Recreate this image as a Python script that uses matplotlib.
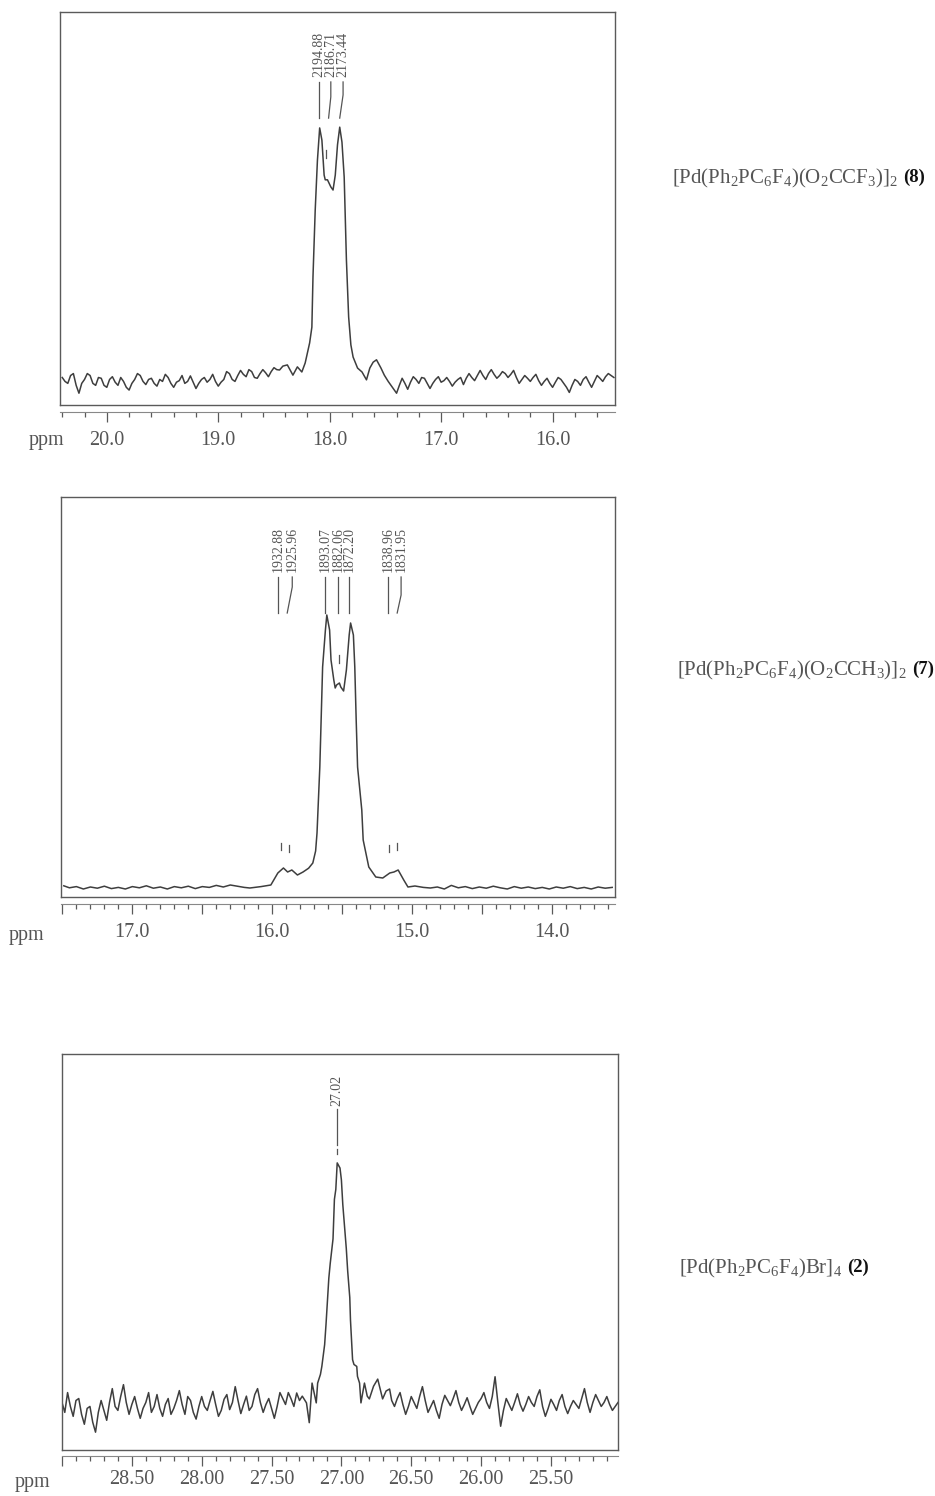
# 31P NMR spectra of the Pd complexes (8), (7) and (2) -> out.png
import matplotlib.pyplot as plt
from matplotlib.ticker import MultipleLocator, FuncFormatter

plt.rcParams["font.family"] = "Liberation Serif"
plt.rcParams["mathtext.fontset"] = "custom"
plt.rcParams["mathtext.rm"] = "Liberation Serif"
plt.rcParams["mathtext.bf"] = "Liberation Serif:bold"

# ---- data (ppm, relative intensity in % of the frame height) ----
# [Pd(Ph2PC6F4)(O2CCF3)]2 (8)
ppm_8 = [20.400, 20.375, 20.350, 20.325, 20.300, 20.275, 20.250, 20.225,
         20.200, 20.175, 20.150, 20.125, 20.100, 20.075, 20.050, 20.025,
         20.000, 19.975, 19.950, 19.925, 19.900, 19.875, 19.850, 19.825,
         19.800, 19.775, 19.750, 19.725, 19.700, 19.675, 19.650, 19.625,
         19.600, 19.575, 19.550, 19.525, 19.500, 19.475, 19.450, 19.425,
         19.400, 19.375, 19.350, 19.325, 19.300, 19.275, 19.250, 19.225,
         19.200, 19.175, 19.150, 19.125, 19.100, 19.075, 19.050, 19.025,
         19.000, 18.975, 18.950, 18.925, 18.900, 18.875, 18.850, 18.825,
         18.800, 18.775, 18.750, 18.725, 18.700, 18.675, 18.650, 18.625,
         18.600, 18.575, 18.550, 18.525, 18.500, 18.475, 18.45,
         18.42, 18.38, 18.33, 18.29, 18.25, 18.22, 18.18, 18.16, 18.15, 18.13,
         18.11, 18.09, 18.07, 18.05, 18.04, 18.02, 17.99, 17.97, 17.95, 17.93,
         17.91, 17.89, 17.87, 17.86, 17.85, 17.83, 17.81, 17.79, 17.75, 17.71,
         17.67, 17.64, 17.61, 17.58, 17.54, 17.51,
         17.475, 17.450, 17.425, 17.400, 17.375, 17.350, 17.325, 17.300,
         17.275, 17.250, 17.225, 17.200, 17.175, 17.150, 17.125, 17.100,
         17.075, 17.050, 17.025, 17.000, 16.975, 16.950, 16.925, 16.900,
         16.875, 16.850, 16.825, 16.800, 16.775, 16.750, 16.725, 16.700,
         16.675, 16.650, 16.625, 16.600, 16.575, 16.550, 16.525, 16.500,
         16.475, 16.450, 16.425, 16.400, 16.375, 16.350, 16.325, 16.300,
         16.275, 16.250, 16.225, 16.200, 16.175, 16.150, 16.125, 16.100,
         16.075, 16.050, 16.025, 16.000, 15.975, 15.950, 15.925, 15.900,
         15.875, 15.850, 15.825, 15.800, 15.775, 15.750, 15.725, 15.700,
         15.675, 15.650, 15.625, 15.600, 15.575, 15.550, 15.525, 15.500,
         15.475, 15.450]
int_8 = [7.0, 6.0, 5.5, 7.5, 8.0, 5.0, 3.0, 5.5,
         6.5, 8.0, 7.5, 5.5, 5.0, 7.0, 6.8, 5.0,
         4.5, 6.5, 7.2, 5.8, 5.0, 7.0, 6.0, 4.5,
         3.8, 5.5, 6.5, 8.0, 7.5, 6.0, 5.2, 6.5,
         6.8, 5.5, 4.8, 6.5, 6.0, 7.8, 7.0, 5.5,
         4.5, 5.8, 6.2, 7.5, 5.5, 6.0, 7.4, 5.8,
         4.2, 5.5, 6.5, 7.0, 5.8, 6.5, 7.8, 6.0,
         4.8, 5.8, 6.5, 8.5, 8.0, 6.5, 6.0, 7.5,
         8.8, 7.8, 7.2, 9.0, 8.5, 7.0, 6.8, 8.0,
         9.0, 8.2, 7.2, 8.5, 9.5, 9.0, 8.9,
         9.9, 10.2, 7.6, 9.7, 8.4, 10.7, 15.8, 19.8, 32.6, 49.6,
         62.3, 70.5, 67.4, 58.5, 57.3, 57.3, 55.5, 54.7, 58.5, 66.2,
         70.7, 66.9, 58.0, 47.1, 36.9, 22.4, 15.3, 12.2, 9.4, 8.4,
         6.4, 9.4, 10.9, 11.5, 9.4, 7.6,
         6.0, 5.0, 4.0, 3.0, 5.0, 6.8, 5.5, 4.0,
         5.8, 7.2, 6.5, 5.5, 7.0, 6.8, 5.5, 4.2,
         5.5, 6.5, 7.2, 5.8, 6.2, 7.0, 6.0, 4.8,
         5.8, 6.5, 7.0, 5.2, 6.8, 8.0, 7.0, 6.2,
         7.5, 8.8, 7.5, 6.5, 8.0, 9.0, 7.8, 6.8,
         7.5, 8.5, 8.0, 7.0, 7.8, 8.8, 7.0, 5.5,
         6.5, 7.5, 6.8, 6.0, 7.0, 7.8, 6.2, 5.0,
         6.0, 6.8, 5.5, 4.5, 5.8, 7.0, 6.5, 5.5,
         4.5, 3.2, 5.0, 6.5, 6.0, 5.0, 6.5, 7.2,
         5.8, 4.5, 6.0, 7.5, 6.8, 6.0, 7.2, 8.0,
         7.5, 7.0]
hz_8 = ["2194.88", "2186.71", "2173.44"]

# [Pd(Ph2PC6F4)(O2CCH3)]2 (7)
ppm_7 = [17.49, 17.45, 17.40, 17.35, 17.30, 17.25, 17.20, 17.15, 17.10, 17.05,
         17.00, 16.95, 16.90, 16.85, 16.80, 16.75, 16.70, 16.65, 16.60, 16.55,
         16.50, 16.45, 16.40, 16.35, 16.30, 16.25, 16.20, 16.16, 16.08, 16.01,
         15.96, 15.92, 15.89, 15.86, 15.82, 15.78, 15.74, 15.71, 15.69, 15.68,
         15.66, 15.64, 15.62, 15.61, 15.59, 15.58, 15.56, 15.55, 15.54, 15.52,
         15.51, 15.49, 15.47, 15.45, 15.44, 15.42, 15.41, 15.40, 15.39, 15.36,
         15.35, 15.31, 15.26, 15.21, 15.16, 15.13, 15.10, 15.06, 15.03, 14.98,
         14.92, 14.87, 14.82, 14.77, 14.72, 14.67, 14.62, 14.57, 14.52, 14.47,
         14.42, 14.37, 14.32, 14.27, 14.22, 14.17, 14.12, 14.07, 14.02, 13.97,
         13.92, 13.87, 13.82, 13.77, 13.72, 13.67, 13.62, 13.57]
int_7 = [2.8, 2.3, 2.6, 2.0, 2.5, 2.2, 2.7, 2.1, 2.4, 2.0,
         2.6, 2.3, 2.8, 2.2, 2.5, 2.0, 2.6, 2.3, 2.7, 2.1,
         2.6, 2.4, 2.9, 2.5, 3.0, 2.7, 2.4, 2.25, 2.6, 3.0,
         6.0, 7.25, 6.25, 6.75, 5.5, 6.25, 7.2, 8.5, 11.5, 16.0,
         32.5, 57.5, 66.75, 70.5, 66.75, 59.25, 54.25, 52.25, 53.0, 53.5,
         52.5, 51.5, 56.75, 65.5, 68.5, 65.5, 57.5, 44.25, 32.5, 21.75,
         14.25, 7.5, 5.0, 4.75, 6.0, 6.25, 6.75, 4.25, 2.5, 2.75,
         2.4, 2.25, 2.5, 2.0, 2.9, 2.3, 2.6, 2.1, 2.5, 2.2,
         2.7, 2.3, 2.0, 2.6, 2.2, 2.5, 2.1, 2.4, 2.0, 2.5,
         2.2, 2.6, 2.1, 2.4, 2.0, 2.5, 2.2, 2.4]
hz_7 = ["1932.88", "1925.96", "1893.07", "1882.06", "1872.20", "1838.96", "1831.95"]

# [Pd(Ph2PC6F4)Br]4 (2)
ppm_2 = [29.00, 28.98, 28.96, 28.94, 28.92, 28.90, 28.88, 28.86, 28.84, 28.82,
         28.80, 28.78, 28.76, 28.74, 28.72, 28.70, 28.68, 28.66, 28.64, 28.62,
         28.60, 28.58, 28.56, 28.54, 28.52, 28.50, 28.48, 28.46, 28.44, 28.42,
         28.40, 28.38, 28.36, 28.34, 28.32, 28.30, 28.28, 28.26, 28.24, 28.22,
         28.20, 28.18, 28.16, 28.14, 28.12, 28.10, 28.08, 28.06, 28.04, 28.02,
         28.00, 27.98, 27.96, 27.94, 27.92, 27.90, 27.88, 27.86, 27.84, 27.82,
         27.80, 27.78, 27.76, 27.74, 27.72, 27.70, 27.68, 27.66, 27.64, 27.62,
         27.60, 27.58, 27.56, 27.54, 27.52, 27.50, 27.48, 27.46, 27.44, 27.42,
         27.40, 27.38, 27.36, 27.34, 27.32, 27.30,
         27.28, 27.25, 27.23, 27.21, 27.19, 27.18, 27.17,
         27.15, 27.14, 27.12, 27.11, 27.09, 27.08, 27.06, 27.05, 27.04, 27.03,
         27.01, 27.00, 26.99, 26.98, 26.965, 26.955, 26.94, 26.935, 26.92, 26.91,
         26.89, 26.885, 26.87, 26.86, 26.835, 26.815, 26.80, 26.77, 26.74, 26.705,
         26.68, 26.655,
         26.64, 26.62, 26.60, 26.58, 26.56, 26.54, 26.52, 26.50, 26.48, 26.46,
         26.44, 26.42, 26.40, 26.38, 26.36, 26.34, 26.32, 26.30, 26.28, 26.26,
         26.24, 26.22, 26.20, 26.18, 26.16, 26.14, 26.12, 26.10, 26.08, 26.06,
         26.04, 26.02, 26.00, 25.98, 25.96, 25.94, 25.92, 25.90, 25.88, 25.86,
         25.84, 25.82, 25.80, 25.78, 25.76, 25.74, 25.72, 25.70, 25.68, 25.66,
         25.64, 25.62, 25.60, 25.58, 25.56, 25.54, 25.52, 25.50, 25.48, 25.46,
         25.44, 25.42, 25.40, 25.38, 25.36, 25.34, 25.32, 25.30, 25.28, 25.26,
         25.24, 25.22, 25.20, 25.18, 25.16, 25.14, 25.12, 25.10, 25.08, 25.06,
         25.04, 25.02]
int_2 = [12.0, 9.5, 14.5, 11.0, 8.5, 12.5, 13.0, 9.0, 6.5, 10.5,
         11.0, 7.0, 4.5, 9.5, 12.5, 10.0, 7.5, 12.0, 15.5, 11.0,
         10.0, 13.5, 16.5, 12.0, 9.0, 11.5, 13.5, 10.5, 8.0, 10.5,
         12.0, 14.5, 9.5, 11.0, 14.0, 10.5, 8.5, 11.5, 13.0, 9.0,
         10.5, 12.5, 15.0, 11.5, 9.0, 13.5, 12.5, 9.5, 7.8, 11.0,
         13.5, 11.0, 10.0, 12.5, 14.8, 11.5, 8.5, 10.0, 12.8, 14.0,
         10.2, 12.0, 16.0, 12.5, 9.2, 11.5, 13.6, 10.0, 11.0, 14.0,
         15.5, 12.0, 9.5, 11.5, 13.0, 10.5, 8.0, 11.0, 14.5, 13.0,
         11.5, 14.5, 12.9, 11.0, 14.4, 12.5,
         13.6, 11.9, 6.9, 16.9, 13.6, 11.9, 16.9,
         19.1, 21.1, 26.6, 31.8, 43.4, 47.1, 53.3, 63.3, 65.8, 72.5,
         71.2, 68.2, 62.0, 57.6, 50.9, 45.2, 38.5, 32.8, 22.8, 21.6,
         21.1, 18.6, 16.9, 11.9, 16.9, 13.6, 12.9, 16.1, 17.9, 12.9,
         14.9, 15.4,
         12.5, 11.0, 13.0, 14.5, 11.5, 9.0, 11.0, 13.5, 12.0, 10.5,
         13.5, 16.0, 12.5, 9.5, 11.0, 12.5, 10.0, 8.0, 11.5, 13.8,
         12.5, 11.2, 13.0, 15.0, 12.0, 10.0, 11.5, 13.2, 11.0, 9.0,
         10.5, 12.0, 13.0, 14.5, 12.0, 10.5, 13.5, 18.5, 12.0, 6.0,
         10.0, 13.0, 11.5, 10.0, 12.0, 14.2, 11.5, 9.8, 11.5, 13.5,
         12.0, 11.0, 13.5, 15.2, 11.0, 8.5, 10.5, 12.8, 11.5, 10.0,
         12.5, 14.0, 11.0, 9.2, 11.0, 12.5, 11.5, 10.5, 13.0, 15.5,
         12.0, 9.5, 12.0, 14.0, 12.5, 11.0, 12.0, 13.5, 11.5, 10.0,
         11.0, 12.0]
hz_2 = ["27.02"]

names = [r"$\mathrm{[Pd(Ph_2PC_6F_4)(O_2CCF_3)]_2}$",
         r"$\mathrm{[Pd(Ph_2PC_6F_4)(O_2CCH_3)]_2}$",
         r"$\mathrm{[Pd(Ph_2PC_6F_4)Br]_4}$"]
numbers = ["(8)", "(7)", "(2)"]

# ---- figure ----
W, H = 935, 1496
LINE = "#3e3e3e"
FRAME = "#5a5a5a"
TXT = "#555555"
fig = plt.figure(figsize=(W / 100, H / 100), dpi=100)


def box(x0, y0, x1, y1):
    return [x0 / W, 1 - y1 / H, (x1 - x0) / W, (y1 - y0) / H]


def spectrum(rect, xlim, ppm, inten):
    ax = fig.add_axes(rect)
    ax.plot(ppm, inten, color=LINE, lw=1.1)
    ax.set_xlim(*xlim)
    ax.set_ylim(0, 100)
    ax.set_xticks([]); ax.set_yticks([])
    for sp in ax.spines.values():
        sp.set_color(FRAME); sp.set_linewidth(1.0)
    return ax


def scale(ax, major, minor, fmt, gap=7, pad=7):
    pos = ax.get_position()
    s = fig.add_axes([pos.x0, pos.y0 - gap / H, pos.width, 0.0001])
    s.set_xlim(ax.get_xlim())
    s.set_yticks([])
    for sp in ["top", "left", "right"]:
        s.spines[sp].set_visible(False)
    s.spines["bottom"].set_color("#888888"); s.spines["bottom"].set_linewidth(0.8)
    s.xaxis.set_major_locator(MultipleLocator(major))
    s.xaxis.set_minor_locator(MultipleLocator(minor))
    s.xaxis.set_major_formatter(FuncFormatter(fmt))
    s.tick_params(which="major", length=7, width=0.9, color=FRAME, pad=pad,
                  labelsize=14.5, labelcolor=TXT)
    s.tick_params(which="minor", length=3.5, width=0.9, color=FRAME)
    s.patch.set_visible(False)
    return s


def leader(ax, xs, ys):
    ax.plot(xs, ys, color=TXT, lw=0.9, clip_on=False)


def peak_text(ax, x, y, s):
    ax.text(x, y, s, rotation=90, ha="center", va="bottom", fontsize=10, color=TXT)


# panel 1: compound 8
ax1 = spectrum(box(60, 12, 615, 405), (20.42, 15.44), ppm_8, int_8)
scale(ax1, 1.0, 0.2, lambda v, p: f"{v:.1f}")
for x, s in zip([18.10, 17.99, 17.88], hz_8):
    peak_text(ax1, x, 83.5, s)
leader(ax1, [18.10, 18.10], [82.2, 73.0])
leader(ax1, [17.99, 17.99, 18.01], [82.2, 78.4, 73.0])
leader(ax1, [17.88, 17.88, 17.91], [82.2, 78.9, 73.0])
leader(ax1, [18.03, 18.03], [64.9, 62.8])
fig.text(46 / W, 1 - 440 / H, "ppm", fontsize=14.5, color=TXT, ha="center", va="center")

# panel 2: compound 7
ax2 = spectrum(box(61, 497, 615, 897), (17.51, 13.55), ppm_7, int_7)
scale(ax2, 0.5, 0.1, lambda v, p: f"{v:.1f}" if abs(v - round(v)) < 1e-6 else "")
for x, s in zip([15.957, 15.857, 15.621, 15.529, 15.45, 15.171, 15.079], hz_7):
    peak_text(ax2, x, 81.25, s)
for x in [15.957, 15.621, 15.529, 15.45, 15.171]:
    leader(ax2, [x, x], [80.0, 71.0])
leader(ax2, [15.857, 15.857, 15.893], [80.0, 77.5, 71.0])
leader(ax2, [15.079, 15.079, 15.107], [80.0, 75.5, 71.0])
for x, y0, y1 in [(15.936, 13.5, 11.75), (15.879, 13.0, 11.25), (15.164, 13.0, 11.25),
                  (15.107, 13.5, 11.75), (15.521, 60.5, 58.5)]:
    leader(ax2, [x, x], [y0, y1])
fig.text(26 / W, 1 - 936 / H, "ppm", fontsize=14.5, color=TXT, ha="center", va="center")

# panel 3: compound 2
ax3 = spectrum(box(62, 1054, 618, 1450), (29.0, 25.02), ppm_2, int_2)
scale(ax3, 0.5, 0.1, lambda v, p: f"{v:.2f}" if v < 28.9 else "", gap=6, pad=3)
peak_text(ax3, 27.029, 86.8, hz_2[0])
leader(ax3, [27.029, 27.029], [86.1, 76.9])
leader(ax3, [27.029, 27.029], [76.0, 74.8])
fig.text(32 / W, 1 - 1483 / H, "ppm", fontsize=14.5, color=TXT, ha="center", va="center")

# compound labels on the right
for ax, name, num, (x, y) in zip([ax1, ax2, ax3], names, numbers,
                                 [(672, 178), (677, 670), (679, 1268)]):
    t = fig.text(x / W, 1 - y / H, name, fontsize=15, color=TXT, ha="left", va="center")
    ax.annotate(num, xy=(1, 0.55), xycoords=t, xytext=(4, 0), textcoords="offset points",
                ha="left", va="center", fontsize=13.5, fontweight="bold", color="#111111",
                annotation_clip=False)

fig.savefig("out.png", dpi=100, facecolor="white")
